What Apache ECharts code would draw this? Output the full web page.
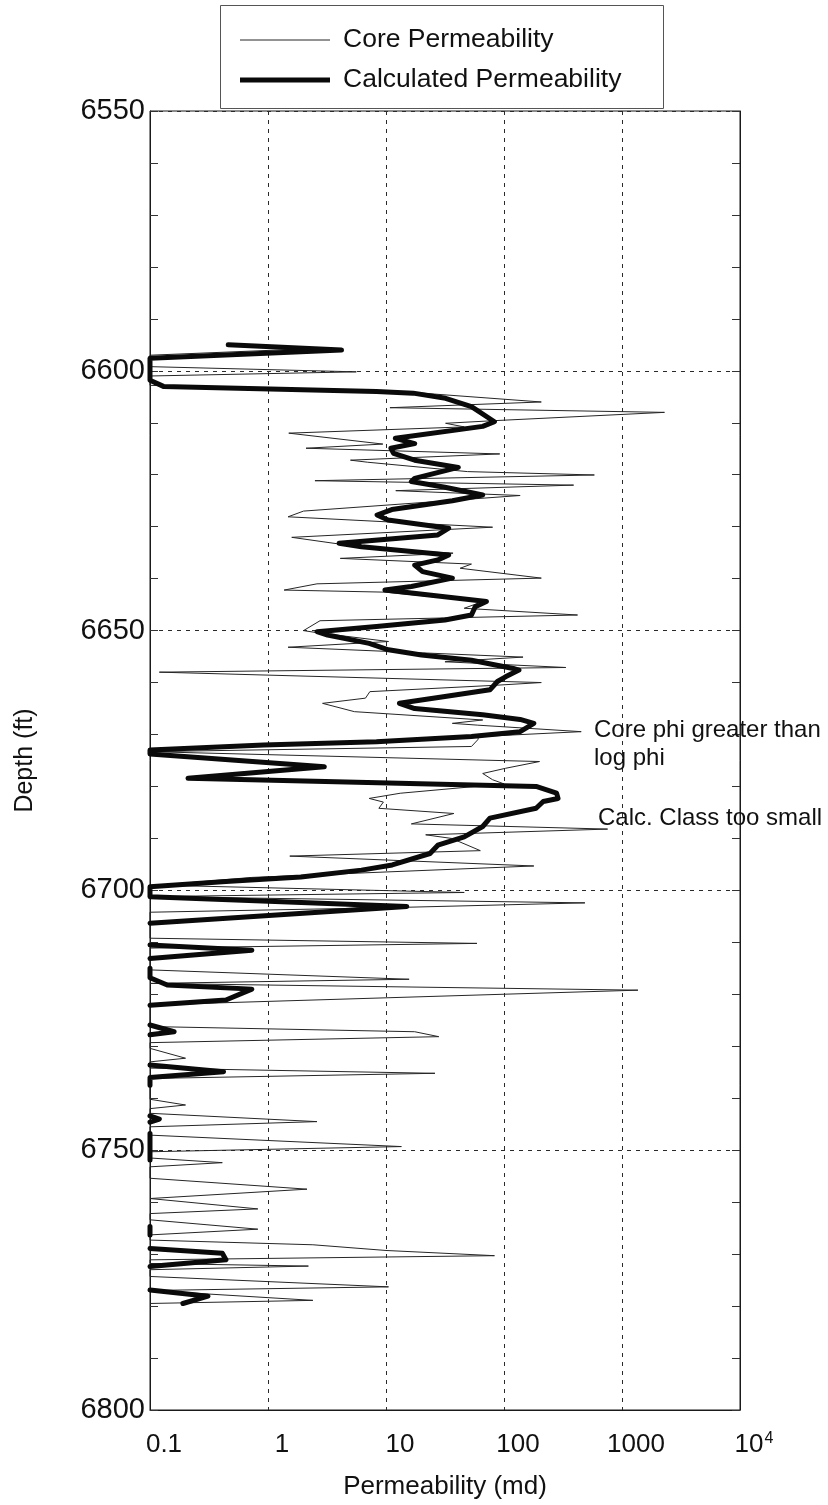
<!DOCTYPE html>
<html>
<head>
<meta charset="utf-8">
<script src="https://cdn.jsdelivr.net/npm/echarts@6/dist/echarts.min.js"></script>
<style>
  html, body { margin: 0; padding: 0; background: #fff; }
  #chart { width: 828px; height: 1505px; }
</style>
</head>
<body>
<div id="chart"></div>
<script>
// Depth track: core permeability vs. permeability calculated from log classes.
const FONT = '"Liberation Sans", Arial, Helvetica, sans-serif';

const seriesNames = ['Core Permeability', 'Calculated Permeability'];

// Depth axis (ft)
const depthMin = 6550;
const depthMax = 6800;
const depthStep = 50;

// Permeability axis (md), one label per decade
const permMin = 0.1;
const permMax = 10000;
const permTickLabels = ['0.1', '1', '10', '100', '1000', '10{sup|4}'];

// Core permeability samples (md); 0.1 = at or below the left edge of the scale
const coreDepth = [
  6595.8, 6597.0, 6599.2, 6600.2, 6601.0, 6602.8, 6604.0, 6604.2, 6606.0, 6607.1,
  6608.0, 6609.6, 6610.1, 6610.8, 6612.0, 6614.1, 6614.9, 6616.0, 6617.2, 6617.6,
  6619.4, 6620.05, 6621.15, 6622.0, 6623.07, 6624.0, 6627.0, 6628.1, 6630.1, 6632.05,
  6633.5, 6634.4, 6635.1, 6636.1, 6637.2, 6638.0, 6639.9, 6641.0, 6642.2, 6642.6,
  6644.4, 6645.7, 6647.0, 6648.1, 6650.0, 6650.4, 6652.1, 6653.2, 6655.1, 6656.0,
  6657.1, 6658.0, 6660.0, 6660.5, 6661.75, 6663.0, 6664.0, 6665.6, 6667.2, 6667.85,
  6668.2, 6669.45, 6670.4, 6671.0, 6672.3, 6673.3, 6675.2, 6676.5, 6677.5, 6678.7,
  6679.5, 6681.3, 6682.3, 6683.0, 6684.2, 6685.2, 6687.2, 6688.2, 6689.3, 6690.0,
  6692.35, 6693.4, 6695.3, 6697.5, 6699.0, 6700.4, 6701.2, 6702.4, 6703.3, 6704.2,
  6709.2, 6710.2, 6711.1, 6715.3, 6717.1, 6717.9, 6719.2, 6722.05, 6726.2, 6727.2,
  6728.15, 6729.3, 6730.4, 6732.3, 6733.0, 6734.2, 6735.2, 6736.2, 6740.2, 6741.3,
  6742.0, 6742.9, 6744.5, 6745.5, 6747.1, 6749.3, 6750.3, 6751.5, 6752.4, 6753.2,
  6755.4, 6757.5, 6759.3, 6761.3, 6762.2, 6763.4, 6765.2, 6766.3, 6767.3, 6768.2,
  6769.3, 6770.3, 6771.1, 6771.8, 6772.3, 6773.0, 6774.3, 6776.3, 6777.0, 6778.9,
  6779.5
];
const corePerm = [
  2.0, 0.1, 0.1, 5.6, 0.1, 0.1, 8.3, 17.5, 207, 10.8,
  2290, 82, 32, 46, 1.5, 9.4, 2.1, 92, 5.0, 7.0,
  49, 583, 2.5, 389, 12.1, 137, 2.0, 1.48, 80, 1.59,
  4.5, 10.4, 37, 4.1, 53, 42.5, 207, 2.6, 1.37, 9.8,
  66, 46, 420, 2.76, 2.0, 2.6, 10.5, 1.48, 145, 31.6,
  334, 0.12, 207, 88, 7.3, 6.7, 2.9, 5.4, 66, 36.5,
  60, 451, 61, 60, 53, 0.1, 200, 103, 66, 80,
  100, 13.2, 7.2, 9.5, 8.7, 37.6, 16.4, 755, 21.7, 36,
  63, 1.53, 179, 0.73, 0.12, 46, 0.1, 485, 12, 0.1,
  0.1, 59, 0.1, 0.1, 15.7, 0.1, 1365, 0.1, 0.1, 17.5,
  28, 0.1, 0.1, 0.2, 0.1, 0.1, 26, 0.1, 0.1, 0.2,
  0.1, 0.1, 2.6, 0.1, 0.1, 13.5, 0.1, 0.1, 0.41, 0.1,
  0.1, 2.14, 0.1, 0.82, 0.1, 0.1, 0.82, 0.1, 0.1, 2.4,
  10, 83, 0.1, 0.1, 2.2, 0.1, 0.1, 10.5, 0.1, 2.4,
  0.1
];

// Calculated permeability (md); null breaks the curve where it runs off scale
const calcDepth = [
  6595.0, 6596.0, 6597.6, 6601.8, 6603.0, 6604.0, 6604.3, 6605.3, 6606.9, 6609.8,
  6610.7, 6613.0, 6614.0, 6614.9, 6615.9, 6617.2, 6618.6, 6620.7, 6621.3, 6622.4,
  6623.9, 6625.0, 6626.7, 6627.75, 6628.7, 6630.3, 6631.6, 6633.2, 6633.85, 6635.45,
  6636.4, 6637.4, 6638.65, 6639.9, 6641.5, 6642.2, 6644.4, 6645.4, 6647.0, 6647.96,
  6649.2, 6650.2, 6650.85, 6652.45, 6653.7, 6654.7, 6655.7, 6657.3, 6657.6, 6658.9,
  6659.8, 6661.4, 6662.7, 6664.0, 6665.0, 6666.2, 6667.1, 6667.85, 6669.45, 6670.4,
  6671.4, 6672.0, 6673.0, 6673.75, 6676.2, 6678.4, 6680.0, 6681.3, 6682.3, 6682.9,
  6684.2, 6686.1, 6687.7, 6689.7, 6691.3, 6692.9, 6695.1, 6696.1, 6697.4, 6698.3,
  6699.3, 6701.2, 6703.1, 6706.3, 6708.0, 6710.5, 6711.5, 6713.1, 6714.0, 6715.0,
  6716.8, 6718.2, 6719.0, 6721.1, 6722.1, 6724.0, 6725.9, 6727.2, 6727.8, 6730.0,
  6733.6, 6734.9, 6736.0, 6737.5, 6740.0, 6743.4, 6744.0, 6744.6, 6745.5, 6746.8,
  6751.9, 6758.0, 6764.7, 6766.3, 6767.5, 6768.9, 6769.85, 6771.1, 6772.4, 6774.5,
  6776.9, 6778.1, 6779.5
];
const calcPerm = [
  0.46, 4.2, 0.1, 0.1, 0.13, 8.3, 17, 32, 53, 83,
  66, 12, 17.5, 11, 11.6, 17.5, 41, 17.5, 16.4, 31.6,
  66, 36.5, 11.2, 8.4, 10.4, 34, 27.5, 4.0, 6.2, 34,
  27.5, 17.5, 20.4, 36.5, 16.4, 9.8, 71, 57, 53, 31.6,
  8.3, 2.6, 3.2, 7.2, 10.5, 20, 53, 120, 134, 103,
  88, 76, 31.6, 13, 17.5, 66, 137, 179, 137, 53,
  8.3, 0.92, 0.1, 0.1, 3.0, 0.21, 187, 279, 287, 215,
  187, 76, 66, 46, 27.5, 23.6, 11.3, 6.2, 1.9, 0.44,
  0.1, 0.1, 15, 0.1, null, 0.1, 0.73, 0.1, null, 0.1,
  0.1, 0.14, 0.73, 0.44, 0.1, null, 0.1, 0.16, 0.1, null,
  0.1, 0.42, 0.1, 0.1, null, 0.1, 0.12, 0.1, null, 0.1,
  0.1, null, 0.1, 0.1, null, 0.1, 0.41, 0.44, 0.1, null,
  0.1, 0.31, 0.19
];

const toPairs = (depths, perms) =>
  depths.map((d, i) => [perms[i] === null ? '-' : perms[i], d]);

const chart = echarts.init(document.getElementById('chart'), null, { renderer: 'canvas' });

const depthAxisBase = {
  type: 'value',
  inverse: true,
  min: depthMin,
  max: depthMax,
  interval: depthStep,
  axisLine: { show: true, lineStyle: { color: '#1a1a1a', width: 1 } },
  axisTick: { show: true, inside: true, length: 8, lineStyle: { color: '#333' } },
  minorTick: { show: true, splitNumber: 5, length: 8, lineStyle: { color: '#333' } }
};

const option = {
  backgroundColor: '#ffffff',
  animation: false,
  grid: {
    left: 150, top: 111, width: 590, height: 1299,
    show: true, borderColor: '#1a1a1a', borderWidth: 1, backgroundColor: 'transparent'
  },
  xAxis: {
    type: 'log',
    logBase: 10,
    min: permMin,
    max: permMax,
    name: 'Permeability (md)',
    nameLocation: 'middle',
    nameGap: 64,
    nameTextStyle: { fontFamily: FONT, fontSize: 26, color: '#111' },
    axisLine: { show: true, lineStyle: { color: '#1a1a1a' } },
    axisTick: { show: false },
    axisLabel: {
      margin: 21,
      padding: [0, 0, 0, 28],
      fontFamily: FONT,
      fontSize: 26,
      lineHeight: 28,
      color: '#111',
      showMinLabel: true,
      showMaxLabel: true,
      formatter: v => permTickLabels[Math.round(Math.log10(v)) + 1],
      rich: {
        sup: { fontFamily: FONT, fontSize: 16, lineHeight: 16, color: '#111', verticalAlign: 'top', padding: [0, 0, 0, 1] }
      }
    },
    splitLine: { show: true, lineStyle: { type: [4, 5], color: '#2a2a2a', width: 1 } }
  },
  yAxis: [
    Object.assign({}, depthAxisBase, {
      position: 'left',
      name: 'Depth (ft)',
      nameLocation: 'middle',
      nameGap: 112,
      nameRotate: 90,
      nameTextStyle: { fontFamily: FONT, fontSize: 25, color: '#111' },
      axisLabel: { margin: 5, fontFamily: FONT, fontSize: 29, color: '#111', formatter: v => String(v) },
      splitLine: { show: true, lineStyle: { type: [4, 5], color: '#2a2a2a', width: 1 } }
    }),
    Object.assign({}, depthAxisBase, {
      position: 'right',
      axisLabel: { show: false },
      splitLine: { show: false }
    })
  ],
  series: [
    {
      name: seriesNames[0],
      type: 'line',
      yAxisIndex: 0,
      data: toPairs(coreDepth, corePerm),
      showSymbol: false,
      symbol: 'none',
      clip: true,
      lineStyle: { color: '#262626', width: 1 },
      z: 3
    },
    {
      name: seriesNames[1],
      type: 'line',
      yAxisIndex: 0,
      data: toPairs(calcDepth, calcPerm),
      showSymbol: false,
      symbol: 'none',
      clip: true,
      connectNulls: false,
      lineStyle: { color: '#0a0a0a', width: 5, cap: 'round', join: 'round' },
      z: 4
    }
  ],
  graphic: [
    // legend box
    { type: 'rect', shape: { x: 220.5, y: 5.5, width: 443, height: 103 },
      style: { fill: '#fff', stroke: '#555', lineWidth: 1 }, z: 10 },
    { type: 'line', shape: { x1: 240, y1: 40, x2: 330, y2: 40 },
      style: { stroke: '#262626', lineWidth: 1 }, z: 11 },
    { type: 'line', shape: { x1: 240, y1: 80, x2: 330, y2: 80 },
      style: { stroke: '#0a0a0a', lineWidth: 5 }, z: 11 },
    { type: 'text', x: 343, y: 40, z: 11,
      style: { text: seriesNames[0], fontFamily: FONT, fontSize: 26.5, fill: '#111', verticalAlign: 'middle' } },
    { type: 'text', x: 343, y: 80, z: 11,
      style: { text: seriesNames[1], fontFamily: FONT, fontSize: 26.5, fill: '#111', verticalAlign: 'middle' } },
    // notes beside the curves
    { type: 'text', x: 594, y: 730, z: 11,
      style: { text: 'Core phi greater than', fontFamily: FONT, fontSize: 24, fill: '#111', verticalAlign: 'middle' } },
    { type: 'text', x: 594, y: 758, z: 11,
      style: { text: 'log phi', fontFamily: FONT, fontSize: 24, fill: '#111', verticalAlign: 'middle' } },
    { type: 'text', x: 598, y: 818, z: 11,
      style: { text: 'Calc. Class too small', fontFamily: FONT, fontSize: 24, fill: '#111', verticalAlign: 'middle' } }
  ]
};

chart.setOption(option);
</script>
</body>
</html>
